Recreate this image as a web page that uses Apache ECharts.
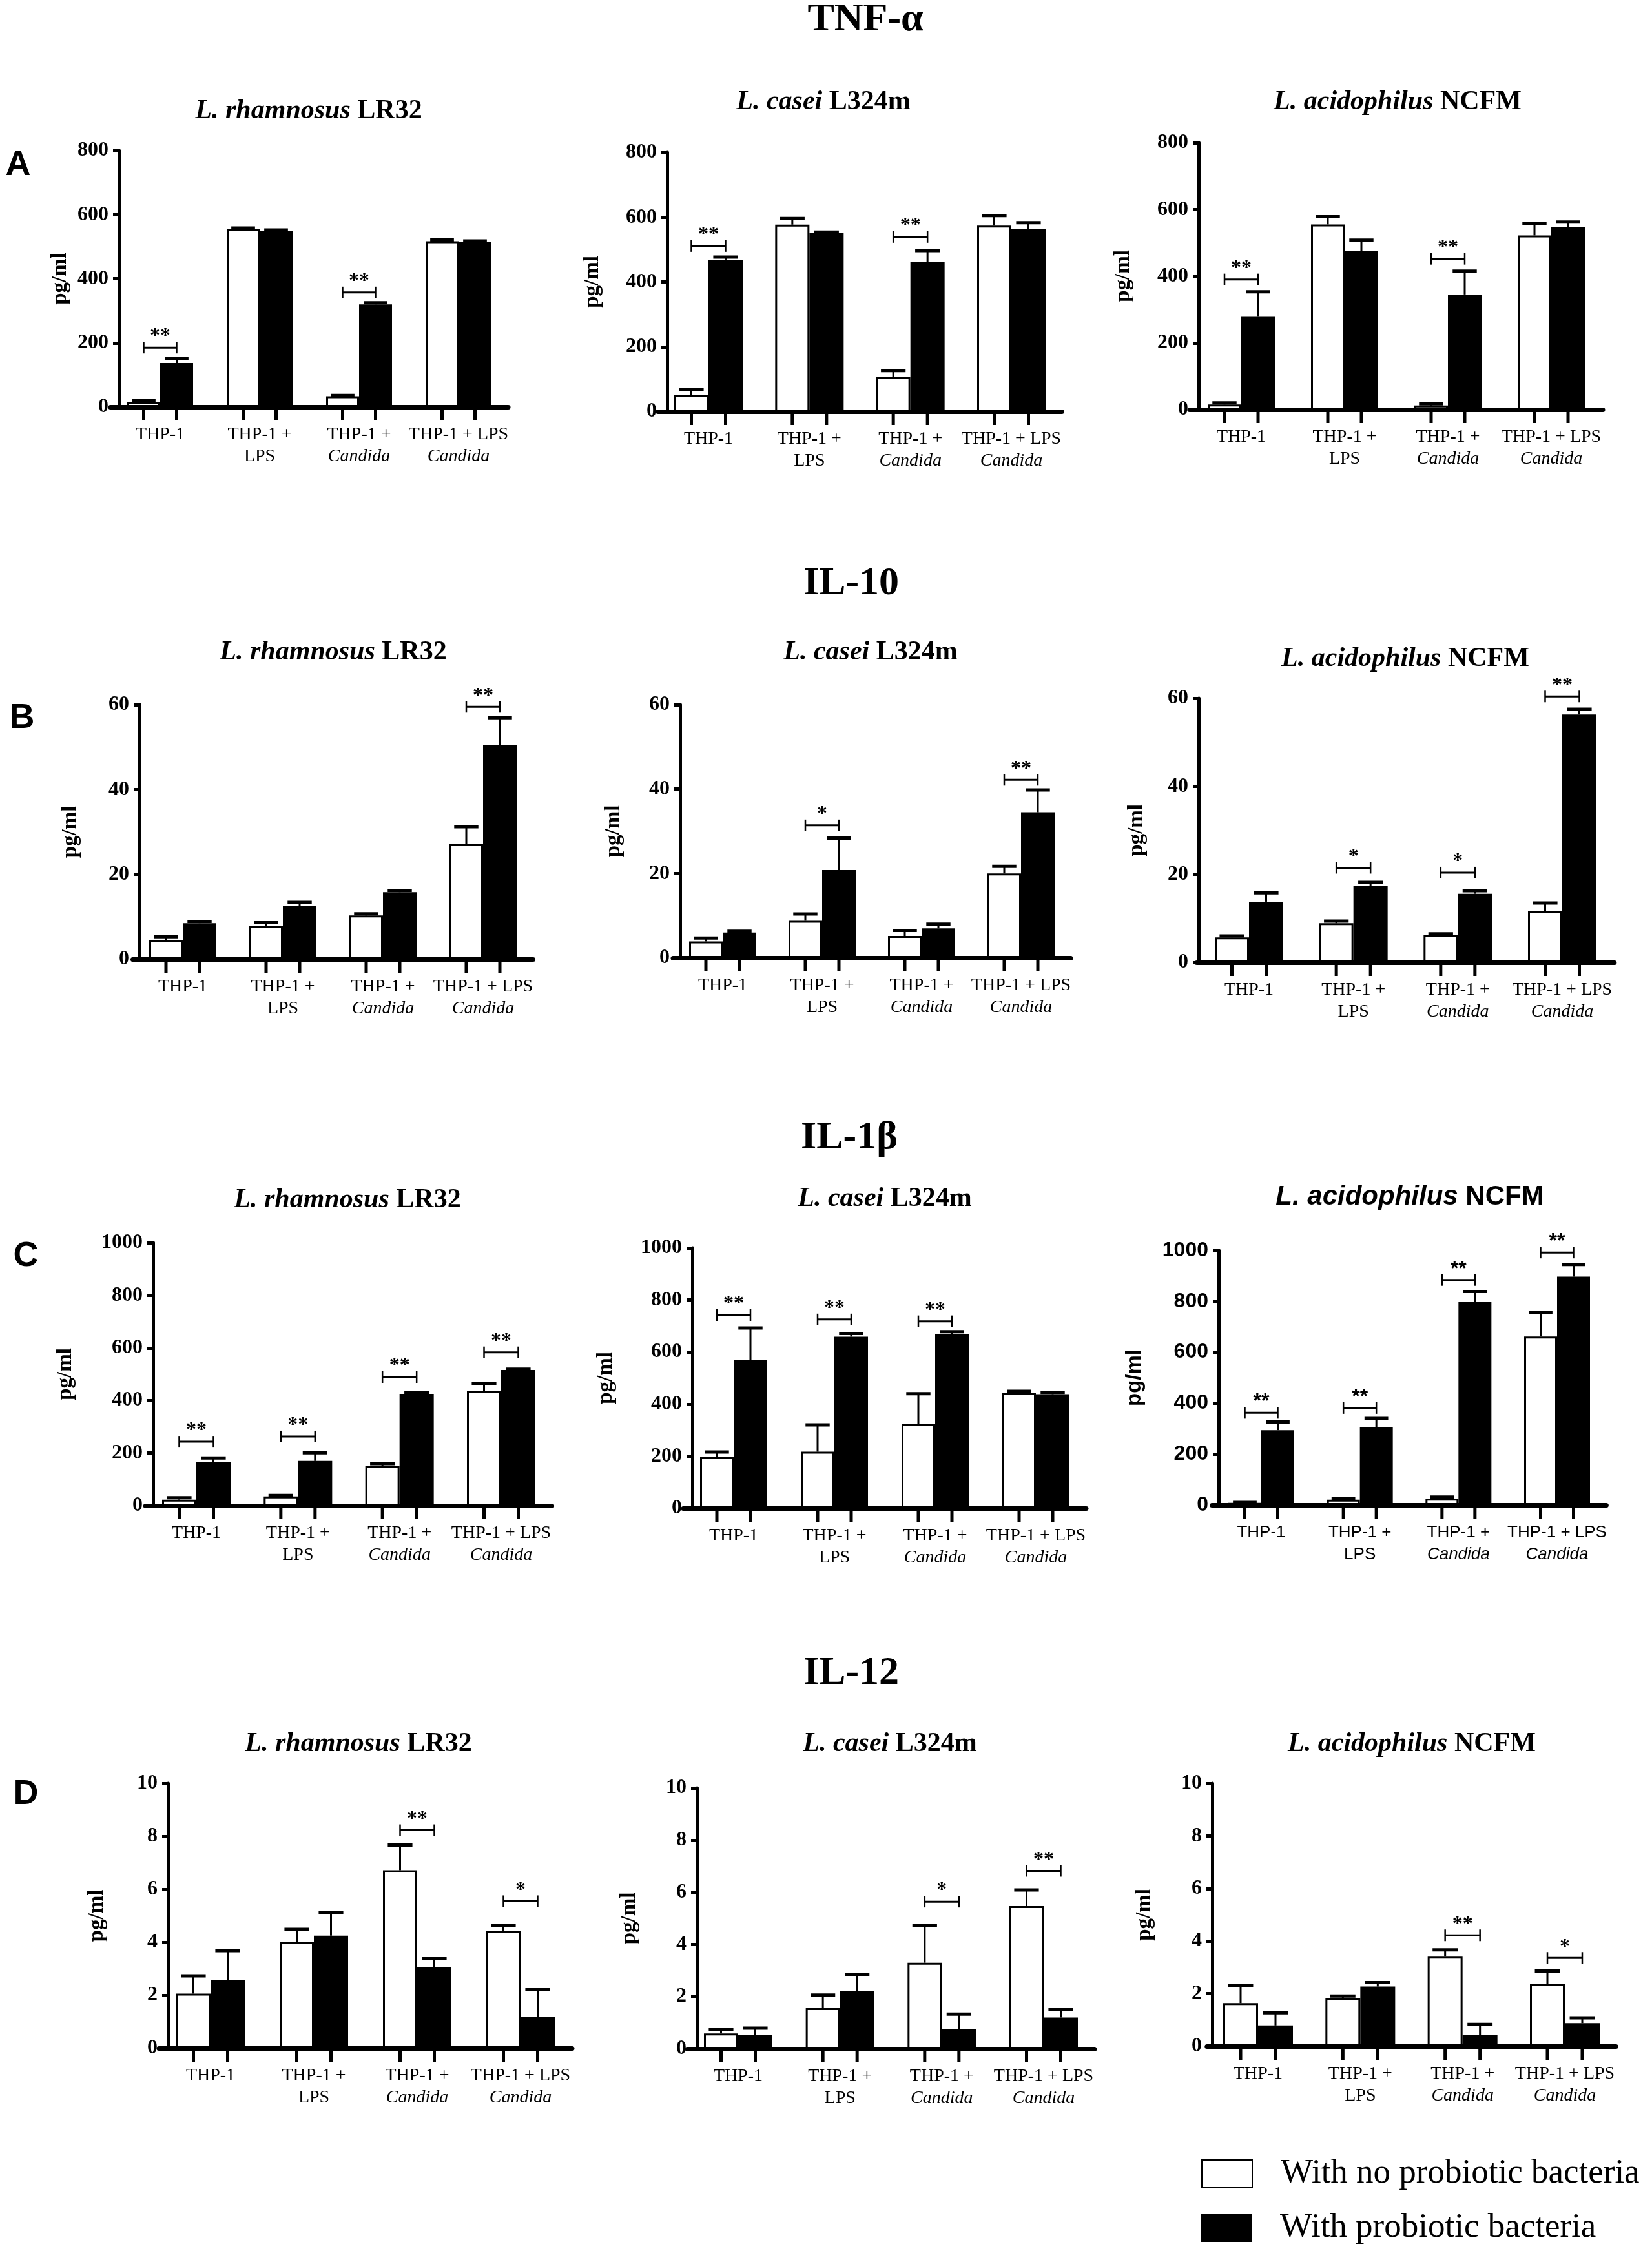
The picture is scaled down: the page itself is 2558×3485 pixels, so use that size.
<!DOCTYPE html>
<html>
<head>
<meta charset="utf-8">
<script src="https://cdn.jsdelivr.net/npm/echarts@6.0.0/dist/echarts.min.js"></script>
<style>
  html, body { margin: 0; padding: 0; background: #fff; }
  #chart { width: 2558px; height: 3485px; }
</style>
</head>
<body>
<div id="chart"></div>
<script>
// ---- data ----
const cytokines = ['TNF-α', 'IL-10', 'IL-1β', 'IL-12'];
const panelLetters = ['A', 'B', 'C', 'D'];
const species = ['L. rhamnosus', 'L. casei', 'L. acidophilus'];
const strainCodes = ['LR32', 'L324m', 'NCFM'];
const groups = ['THP-1', 'THP-1 + LPS', 'THP-1 + Candida', 'THP-1 + LPS Candida'];
const groupLine1 = ['THP-1', 'THP-1 +', 'THP-1 +', 'THP-1 + LPS'];
const groupLine2 = ['', 'LPS', 'Candida', 'Candida'];
const seriesNames = ['With no probiotic bacteria', 'With probiotic bacteria'];
const yMax = [800, 60, 1000, 10];
const yStep = [200, 20, 200, 2];

// each: [LR32, L324m, NCFM], 4 groups per strain
const tnfNone = [[15, 555, 33, 517], [50, 577, 106, 574], [15, 555, 12, 522]];
const tnfNoneSem = [[5, 3, 3, 4], [17, 19, 20, 31], [5, 23, 5, 36]];
const tnfProb = [[137, 550, 320, 515], [469, 551, 461, 563], [278, 475, 345, 548]];
const tnfProbSem = [[14, 2, 5, 3], [8, 3, 36, 20], [75, 33, 70, 14]];
const tnfSig = [[[0, 185, '**'], [2, 357, '**']], [[0, 511, '**'], [2, 539, '**']], [[0, 390, '**'], [2, 452, '**']]];

const il10None = [[4.4, 7.9, 10.3, 27.1], [3.9, 8.8, 5.2, 20.0], [5.7, 8.9, 6.2, 11.7]];
const il10NoneSem = [[0.9, 0.7, 0.4, 4.1], [0.8, 1.6, 1.3, 1.7], [0.3, 0.5, 0.3, 1.8]];
const il10Prob = [[8.5, 12.5, 15.8, 50.5], [6.0, 20.8, 7.0, 34.5], [13.8, 17.3, 15.6, 56.3]];
const il10ProbSem = [[0.4, 0.9, 0.4, 6.4], [0.3, 7.6, 1.0, 5.3], [2.0, 0.9, 0.7, 1.2]];
const il10Sig = [[[3, 59.5, '**']], [[1, 31.4, '*'], [3, 42.2, '**']], [[1, 21.5, '*'], [2, 20.4, '*'], [3, 60.4, '**']]];

const il1bNone = [[23, 35, 152, 437], [196, 217, 325, 442], [8, 21, 25, 662]];
const il1bNoneSem = [[7, 4, 8, 26], [20, 103, 115, 7], [2, 4, 6, 95]];
const il1bProb = [[166, 170, 425, 516], [568, 659, 668, 438], [294, 307, 797, 897]];
const il1bProbSem = [[15, 31, 5, 3], [124, 12, 10, 7], [32, 33, 42, 48]];
const il1bSig = [[[0, 243, '**'], [1, 263, '**'], [2, 489, '**'], [3, 583, '**']], [[0, 742, '**'], [1, 725, '**'], [2, 718, '**']], [[0, 362, '**'], [1, 381, '**'], [2, 884, '**'], [3, 992, '**']]];

const il12None = [[2.06, 4.0, 6.72, 4.44], [0.59, 1.56, 3.30, 5.47], [1.64, 1.82, 3.41, 2.36]];
const il12NoneSem = [[0.67, 0.49, 0.95, 0.18], [0.16, 0.5, 1.42, 0.62], [0.67, 0.09, 0.26, 0.5]];
const il12Prob = [[2.57, 4.25, 3.05, 1.19], [0.53, 2.2, 0.75, 1.2], [0.79, 2.27, 0.42, 0.88]];
const il12ProbSem = [[1.11, 0.87, 0.33, 1.02], [0.26, 0.66, 0.58, 0.3], [0.48, 0.15, 0.41, 0.2]];
const il12Sig = [[[2, 8.23, '**'], [3, 5.55, '*']], [[2, 5.64, '*'], [3, 6.82, '**']], [[2, 4.22, '**'], [3, 3.36, '*']]];

const none = [tnfNone, il10None, il1bNone, il12None];
const noneSem = [tnfNoneSem, il10NoneSem, il1bNoneSem, il12NoneSem];
const prob = [tnfProb, il10Prob, il1bProb, il12Prob];
const probSem = [tnfProbSem, il10ProbSem, il1bProbSem, il12ProbSem];
const sigs = [tnfSig, il10Sig, il1bSig, il12Sig];

// ---- layout (pixels) ----
// ax: y axis line x, top: y of max tick, zero: y of 0, c0/c3: first/last group centre, bw: bar width
const layout = [
  { ax: 184, top: 233, zero: 630, c0: 248, c3: 710, bw: 51, nameGap: 74 },
  { ax: 1033, top: 236, zero: 637, c0: 1097, c3: 1566, bw: 53, nameGap: 99 },
  { ax: 1856, top: 221, zero: 634, c0: 1922, c3: 2402, bw: 52, nameGap: 100 },
  { ax: 216, top: 1091, zero: 1485, c0: 283, c3: 748, bw: 52, nameGap: 90 },
  { ax: 1053, top: 1091, zero: 1483, c0: 1119, c3: 1581, bw: 52, nameGap: 86 },
  { ax: 1856, top: 1081, zero: 1490, c0: 1934, c3: 2419, bw: 53, nameGap: 79 },
  { ax: 237, top: 1924, zero: 2331, c0: 304, c3: 776, bw: 53, nameGap: 119 },
  { ax: 1072, top: 1932, zero: 2335, c0: 1136, c3: 1604, bw: 52, nameGap: 117 },
  { ax: 1887, top: 1936, zero: 2330, c0: 1953, c3: 2411, bw: 51, nameGap: 114 },
  { ax: 260, top: 2761, zero: 3171, c0: 326, c3: 806, bw: 53, nameGap: 93 },
  { ax: 1079, top: 2768, zero: 3172, c0: 1143, c3: 1616, bw: 53, nameGap: 88 },
  { ax: 1877, top: 2761, zero: 3168, c0: 1948, c3: 2423, bw: 54, nameGap: 88 },
];
const subX = [478, 1275, 2164, 516, 1348, 2176, 538, 1370, 2183, 555, 1378, 2186];
const subY = [172, 158, 158, 1010, 1010, 1020, 1858, 1856, 1853, 2700, 2700, 2700];
const rowTitleX = [1340, 1318, 1315, 1318];
const rowTitleY = [31, 904, 1762, 2591];
const letterX = [28, 34, 40, 40];
const letterY = [256, 1112, 1945, 2778];
const legendTop = [3339, 3423];
const sansPanels = [8];

const SERIF = 'Liberation Serif';
const SANS = 'Liberation Sans';

const errorRender = (bw) => (params, api) => {
  const i = api.value(0);
  const base = api.coord([i, 0]);
  const children = [];
  [[api.value(1), api.value(2), -1], [api.value(3), api.value(4), 1]].forEach(([v, e, side]) => {
    const x = base[0] + side * bw / 2;
    const yTop = api.coord([i, v])[1];
    const yErr = api.coord([i, v + e])[1];
    children.push({ type: 'line', shape: { x1: x, y1: yTop, x2: x, y2: yErr }, style: { stroke: '#000', lineWidth: 3 } });
    children.push({ type: 'line', shape: { x1: x - bw * 0.36, y1: yErr, x2: x + bw * 0.36, y2: yErr }, style: { stroke: '#000', lineWidth: 5 } });
    children.push({ type: 'line', shape: { x1: x, y1: base[1], x2: x, y2: base[1] + 21 }, style: { stroke: '#000', lineWidth: 5 } });
  });
  return { type: 'group', children };
};

const sigRender = (bw, sig, font) => (params, api) => {
  const i = api.value(0);
  const p = api.coord([i, api.value(1)]);
  const x1 = p[0] - bw / 2;
  const x2 = p[0] + bw / 2;
  const y = p[1];
  return {
    type: 'group',
    children: [
      { type: 'line', shape: { x1, y1: y, x2, y2: y }, style: { stroke: '#000', lineWidth: 3 } },
      { type: 'line', shape: { x1, y1: y - 9, x2: x1, y2: y + 9 }, style: { stroke: '#000', lineWidth: 2.5 } },
      { type: 'line', shape: { x1: x2, y1: y - 9, x2, y2: y + 9 }, style: { stroke: '#000', lineWidth: 2.5 } },
      {
        type: 'text',
        style: {
          text: sig[params.dataIndex][2], x: p[0], y: y - 1,
          align: 'center', verticalAlign: 'bottom',
          font: `bold 32px "${font}"`, fill: '#000',
        },
      },
    ],
  };
};

const grids = [];
const xAxes = [];
const yAxes = [];
const series = [];
const titles = [];

cytokines.forEach((name, r) => {
  titles.push({
    text: name, left: rowTitleX[r], top: rowTitleY[r], padding: 0,
    textAlign: 'center', textVerticalAlign: 'middle',
    textStyle: { fontFamily: SERIF, fontWeight: 'bold', fontSize: 62, color: '#000' },
  });
  titles.push({
    text: panelLetters[r], left: letterX[r], top: letterY[r], padding: 0,
    textAlign: 'center', textVerticalAlign: 'middle',
    textStyle: { fontFamily: SANS, fontWeight: 'bold', fontSize: 54, color: '#000' },
  });

  for (let c = 0; c < 3; c++) {
    const k = r * 3 + c;
    const L = layout[k];
    const font = sansPanels.includes(k) ? SANS : SERIF;
    const band = (L.c3 - L.c0) / 3;
    const left = L.c0 - band / 2;
    const labelSize = font === SANS ? 26 : 28;

    titles.push({
      text: `{i|${species[c]}}{b| ${strainCodes[c]}}`,
      left: subX[k], top: subY[k], padding: 0,
      textAlign: 'center', textVerticalAlign: 'middle',
      textStyle: {
        rich: {
          i: { fontFamily: font, fontStyle: 'italic', fontWeight: 'bold', fontSize: 42, color: '#000' },
          b: { fontFamily: font, fontWeight: 'bold', fontSize: 42, color: '#000' },
        },
      },
    });

    grids.push({ left, top: L.top, width: band * 4, height: L.zero - L.top });

    xAxes.push({
      type: 'category', gridIndex: k, data: groups,
      axisLine: { lineStyle: { color: '#000', width: 7 } },
      axisTick: { show: false },
      axisLabel: {
        interval: 0, margin: 26, color: '#000',
        formatter: (v, idx) => {
          let s = `{n|${groupLine1[idx]}}`;
          if (groupLine2[idx]) s += `\n{${groupLine2[idx] === 'Candida' ? 'i' : 'n'}|${groupLine2[idx]}}`;
          return s;
        },
        rich: {
          n: { fontFamily: font, fontSize: labelSize, lineHeight: 34, color: '#000' },
          i: { fontFamily: font, fontStyle: 'italic', fontSize: labelSize, lineHeight: 34, color: '#000' },
        },
      },
    });

    yAxes.push({
      type: 'value', gridIndex: k, min: 0, max: yMax[r], interval: yStep[r],
      offset: left - L.ax,
      name: 'pg/ml', nameLocation: 'middle', nameRotate: 90, nameGap: L.nameGap,
      nameTextStyle: { fontFamily: font, fontWeight: 'bold', fontSize: 33, color: '#000' },
      axisLine: { show: true, lineStyle: { color: '#000', width: 5 } },
      axisTick: { show: true, length: 9, lineStyle: { color: '#000', width: 5 } },
      splitLine: { show: false },
      axisLabel: {
        margin: 16, color: '#000', fontFamily: font, fontWeight: 'bold', fontSize: 32,
        formatter: (v) => String(v),
      },
    });

    series.push({
      type: 'bar', name: seriesNames[0], xAxisIndex: k, yAxisIndex: k,
      data: none[r][c], barWidth: L.bw, barGap: '0%',
      itemStyle: { color: '#fff', borderColor: '#000', borderWidth: 3 },
      z: 2,
    });
    series.push({
      type: 'bar', name: seriesNames[1], xAxisIndex: k, yAxisIndex: k,
      data: prob[r][c], barWidth: L.bw, barGap: '0%',
      itemStyle: { color: '#000' },
      z: 2,
    });
    series.push({
      type: 'custom', xAxisIndex: k, yAxisIndex: k, silent: true, z: 3,
      renderItem: errorRender(L.bw),
      data: groups.map((g, i) => [i, none[r][c][i], noneSem[r][c][i], prob[r][c][i], probSem[r][c][i]]),
    });
    const sig = sigs[r][c];
    series.push({
      type: 'custom', xAxisIndex: k, yAxisIndex: k, silent: true, z: 3,
      renderItem: sigRender(L.bw, sig, font),
      data: sig.map((s) => [s[0], s[1]]),
    });
  }
});

const legends = seriesNames.map((n, i) => ({
  orient: 'vertical', left: 1860, top: legendTop[i], padding: 0,
  itemWidth: 78, itemHeight: 43, icon: 'rect',
  selectedMode: false,
  data: [n],
  textStyle: { fontFamily: SERIF, fontSize: 53, color: '#000', padding: [0, 0, 0, 39] },
}));

const chart = echarts.init(document.getElementById('chart'), null, { renderer: 'canvas' });
chart.setOption({
  animation: false,
  backgroundColor: '#fff',
  title: titles,
  legend: legends,
  grid: grids,
  xAxis: xAxes,
  yAxis: yAxes,
  series,
});
</script>
</body>
</html>
